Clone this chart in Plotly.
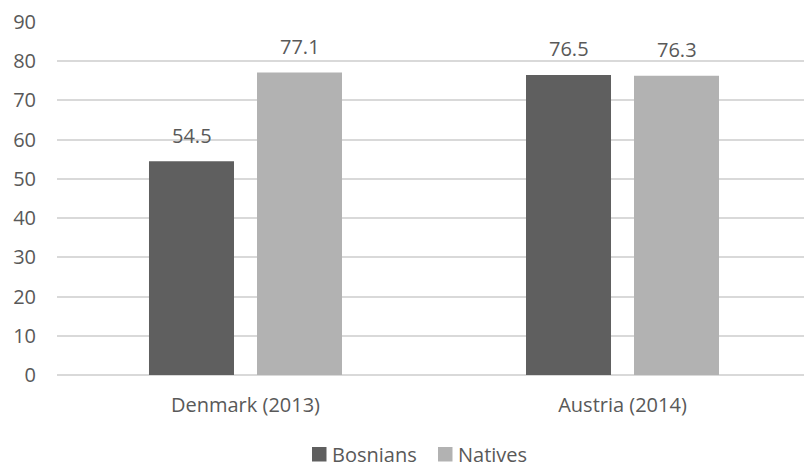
import plotly.graph_objects as go

categories = ["Denmark (2013)", "Austria (2014)"]
bosnians = [54.5, 76.5]
natives = [77.1, 76.3]
y_ticks = [0, 10, 20, 30, 40, 50, 60, 70, 80, 90]

TXT = "#595959"
FONT = "Open Sans"
C_B = "#5f5f5f"
C_N = "#b2b2b2"

fig = go.Figure()
fig.add_trace(go.Bar(name="Bosnians", x=categories, y=bosnians,
                     marker=dict(color=C_B, line=dict(width=0)), showlegend=False))
fig.add_trace(go.Bar(name="Natives", x=categories, y=natives,
                     marker=dict(color=C_N, line=dict(width=0)), showlegend=False))

# data labels above the bars
for vals, xs in ((bosnians, -54), (natives, 54)):
    for cat, v in zip(categories, vals):
        fig.add_annotation(x=cat, y=v, xref="x", yref="y", text=f"{v:.1f}",
                           showarrow=False, xshift=xs, yshift=26, yanchor="middle",
                           font=dict(family=FONT, size=20, color=TXT))

# custom legend
PX0, PW, PY0, PH = 57, 747, 375, 353
def px(x):
    return (x - PX0) / PW
def py(y):
    return -(y - PY0) / PH

LEG_Y = 454
for name, col, sx in (("Bosnians", C_B, 312), ("Natives", C_N, 438)):
    fig.add_shape(type="rect", xref="paper", yref="paper",
                  x0=px(sx), x1=px(sx + 14.5), y0=py(LEG_Y - 7), y1=py(LEG_Y + 7.5),
                  fillcolor=col, line=dict(width=0))
    fig.add_annotation(xref="paper", yref="paper", x=px(sx + 19), y=py(LEG_Y),
                       text=name, showarrow=False, xanchor="left", yanchor="middle",
                       font=dict(family=FONT, size=20, color=TXT), borderpad=0)

fig.update_layout(
    width=804, height=468,
    margin=dict(l=57, r=0, t=22, b=93, autoexpand=False),
    paper_bgcolor="white", plot_bgcolor="white",
    barmode="group", bargap=0.427, bargroupgap=0.213,
    font=dict(family=FONT, size=20, color=TXT),
    showlegend=False,
)
fig.update_xaxes(
    range=[-0.5, 1.4814], showgrid=False, showline=False, zeroline=False,
    ticks="", tickfont=dict(family=FONT, size=20, color=TXT), ticklabelstandoff=16,
    automargin=False,
)
fig.update_yaxes(
    range=[0, 90], tickvals=y_ticks, showgrid=True, gridcolor="#d9d9d9", gridwidth=1.5,
    zeroline=True, zerolinecolor="#d9d9d9", zerolinewidth=1.5, showline=False,
    ticks="", tickfont=dict(family=FONT, size=20, color=TXT), ticklabelstandoff=20,
    automargin=False,
)

fig.write_html("out.html", config={"displayModeBar": False},
               post_script="document.body.style.margin='0';document.body.style.overflow='hidden';")
